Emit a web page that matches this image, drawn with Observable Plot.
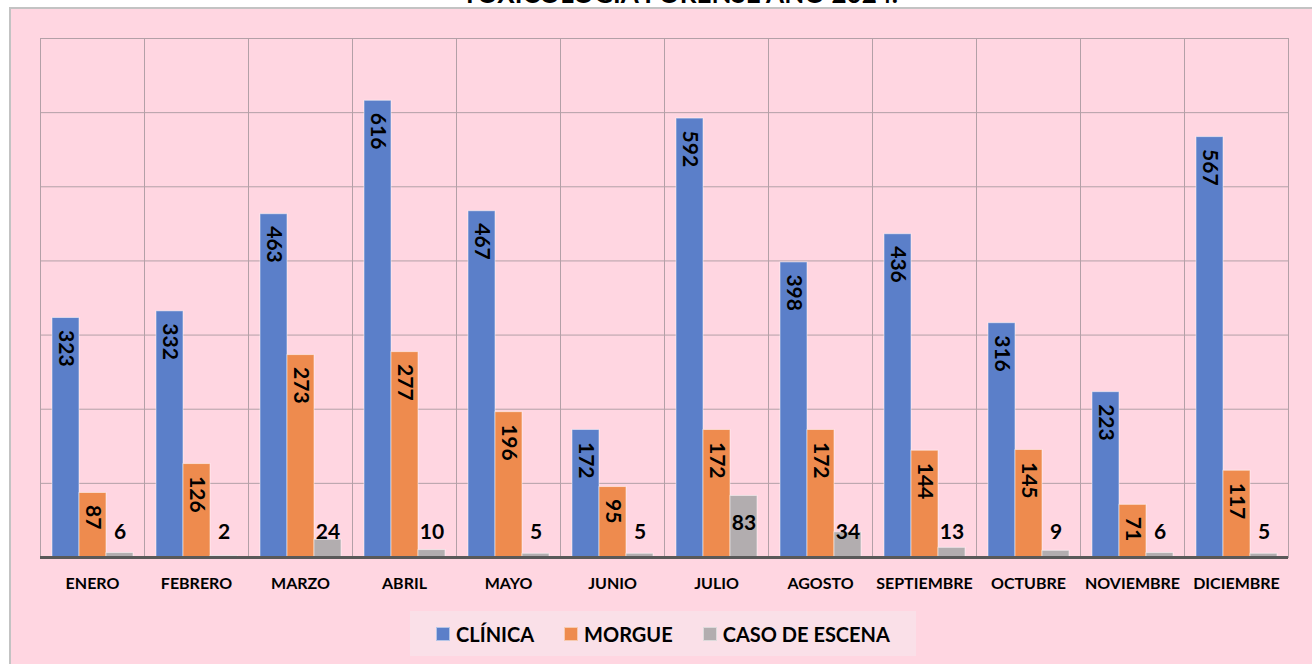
<!DOCTYPE html>
<html lang="es">
<head>
<meta charset="utf-8">
<title>Toxicología forense año 2024</title>
<script src="https://cdn.jsdelivr.net/npm/d3@7"></script>
<script src="https://cdn.jsdelivr.net/npm/@observablehq/plot@0.6"></script>
<style>
  html, body { margin: 0; padding: 0; background: #ffffff; }
  body { width: 1312px; height: 664px; position: relative; overflow: hidden; font-family: Lato, "Open Sans", sans-serif; }
  #title {
    position: absolute; left: 0; width: 1360px; top: -20px;
    font-size: 26px; line-height: 26px; font-weight: bold; text-align: center; color: #000;
    white-space: nowrap;
  }
  #panel {
    position: absolute; left: 9px; top: 7px; width: 1310px; height: 664px;
    background: #FFD6E1; border-left: 2px solid #C3C3C3; border-top: 2px solid #C3C3C3;
    box-sizing: border-box;
  }
  #chart { position: absolute; left: 0; top: 0; }
  #legend {
    position: absolute; left: 410px; top: 611px; width: 506px; height: 45px;
    background: #FAE0E8; display: flex; align-items: center; justify-content: center; gap: 30px;
    font-size: 20px; font-weight: bold; color: #000;
  }
  #legend .item { display: flex; align-items: center; gap: 6px; }
  #legend .sw { width: 14px; height: 14px; box-sizing: border-box; border: 1px solid rgba(255,255,255,0.55); }
</style>
</head>
<body>
<div id="title">TOXICOLOGIA FORENSE AÑO 2024.</div>
<div id="panel"></div>
<div id="chart"></div>
<div id="legend"></div>
<script>
// Monthly case counts by origin
const months = ["ENERO", "FEBRERO", "MARZO", "ABRIL", "MAYO", "JUNIO", "JULIO", "AGOSTO", "SEPTIEMBRE", "OCTUBRE", "NOVIEMBRE", "DICIEMBRE"];
const series = ["CLÍNICA", "MORGUE", "CASO DE ESCENA"];
const clinica = [323, 332, 463, 616, 467, 172, 592, 398, 436, 316, 223, 567];
const morgue = [87, 126, 273, 277, 196, 95, 172, 172, 144, 145, 71, 117];
const escena = [6, 2, 24, 10, 5, 5, 83, 34, 13, 9, 6, 5];
const gridTicks = [100, 200, 300, 400, 500, 600, 700];

const colors = ["#5B7FC9", "#EE8B4E", "#B2ADAF"];
const gridColor = "#B3A0A7";

const rows = months.flatMap((m, i) => [
  {month: m, series: series[0], value: clinica[i]},
  {month: m, series: series[1], value: morgue[i]},
  {month: m, series: series[2], value: escena[i]}
]);

const tallRows = rows.filter(d => d.series !== series[2]);
const sceneRows = rows.filter(d => d.series === series[2]);
const sceneLow = sceneRows.filter(d => d.value < 60);
const sceneHigh = sceneRows.filter(d => d.value >= 60);

const labelStyle = {fontSize: 21, fontWeight: "bold", fill: "#000"};

const chart = Plot.plot({
  width: 1312,
  height: 600,
  marginLeft: 39,
  marginRight: 24,
  marginTop: 38,
  marginBottom: 43,
  style: {background: "transparent", fontFamily: "Lato, 'Open Sans', sans-serif", overflow: "visible", color: "#000"},
  fx: {domain: months, padding: 0, label: null, axis: null},
  x: {domain: series, paddingInner: 0, paddingOuter: 0.36, axis: null},
  y: {domain: [0, 700], axis: null},
  color: {domain: series, range: colors},
  marks: [
    Plot.ruleY(gridTicks, {stroke: gridColor, strokeWidth: 1}),
    Plot.frame({stroke: gridColor, strokeWidth: 1}),
    Plot.barY(rows, {
      fx: "month", x: "series", y: "value", fill: "series",
      stroke: "#ffffff", strokeOpacity: 0.5, strokeWidth: 1
    }),
    Plot.ruleY([0], {stroke: "#595959", strokeWidth: 3}),
    Plot.text(tallRows, {
      fx: "month", x: "series", y: "value", text: d => String(d.value),
      rotate: 90, textAnchor: "start", dy: 12, ...labelStyle
    }),
    Plot.text(sceneLow, {
      fx: "month", x: "series", y: () => 0, text: d => String(d.value),
      dy: -25, ...labelStyle
    }),
    Plot.text(sceneHigh, {
      fx: "month", x: "series", y: "value", text: d => String(d.value),
      dy: 27, ...labelStyle
    }),
    Plot.axisFx({anchor: "bottom", tickSize: 0, tickPadding: 20, fontSize: 16, fontWeight: "bold", label: null})
  ]
});
document.getElementById("chart").append(chart);

// Legend built from the same series and colours
const legend = document.getElementById("legend");
series.forEach((s, i) => {
  const item = document.createElement("div");
  item.className = "item";
  const sw = document.createElement("span");
  sw.className = "sw";
  sw.style.background = colors[i];
  const label = document.createElement("span");
  label.textContent = s;
  item.append(sw, label);
  legend.append(item);
});
</script>
</body>
</html>
